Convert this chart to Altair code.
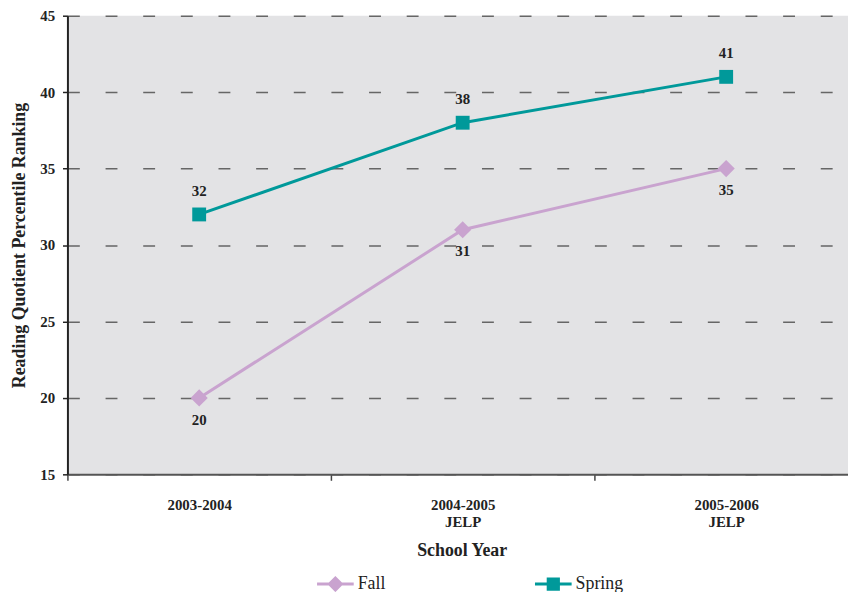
import altair as alt
import pandas as pd

years = ["2003-2004", "2004-2005 JELP", "2005-2006 JELP"]
fall = [20, 31, 35]
spring = [32, 38, 41]
series_names = ["Fall", "Spring"]
series_colors = ["#c9a3cf", "#00999a"]
y_ticks = [15, 20, 25, 30, 35, 40, 45]

rows = []
for i, yr in enumerate(years):
    rows.append({"year": yr, "series": "Fall", "value": fall[i], "pos": "below"})
    rows.append({"year": yr, "series": "Spring", "value": spring[i], "pos": "above"})
df = pd.DataFrame(rows)

FONT = "Liberation Serif"

x_enc = alt.X(
    "year:N",
    sort=years,
    scale=alt.Scale(type="band", paddingInner=0, paddingOuter=0, range=[0, 798]),
    axis=alt.Axis(
        title="School Year",
        titleFont=FONT, titleFontSize=18, titleFontWeight="bold", titleColor="#222",
        titleY=77, titleX=398, titleBaseline="middle",
        labelFont=FONT, labelFontSize=15, labelFontWeight="bold", labelColor="#222",
        labelExpr="split(datum.label, ' ')", labelLineHeight=18,
        labelAngle=0, labelPadding=17, labelBaseline="top",
        tickBand="extent", tickSize=6, tickColor="#444", tickWidth=1.5,
        domainColor="#555", domainWidth=2, grid=False,
    ),
)
y_enc = alt.Y(
    "value:Q",
    scale=alt.Scale(domain=[15, 45], nice=False, zero=False),
    axis=alt.Axis(
        title="Reading Quotient Percentile Ranking",
        titleFont=FONT, titleFontSize=18, titleFontWeight="bold", titleColor="#222",
        titleX=-48, titleBaseline="middle",
        values=y_ticks,
        labelFont=FONT, labelFontSize=15, labelFontWeight="bold", labelColor="#222",
        labelPadding=8, tickSize=5, tickColor="#222", tickWidth=1.5,
        domainColor="#222", domainWidth=2,
        grid=True, gridColor="#666", gridWidth=1.5, gridDash=[12, 26],
    ),
)
color_enc = alt.Color(
    "series:N",
    scale=alt.Scale(domain=series_names, range=series_colors),
    legend=None,
)

base = alt.Chart(df)

lines = base.mark_line(strokeWidth=3).encode(x=x_enc, y=y_enc, color=color_enc)

points = base.mark_point(filled=True, opacity=1).encode(
    x=x_enc, y=y_enc, color=color_enc,
    shape=alt.Shape("series:N", scale=alt.Scale(domain=series_names, range=["diamond", "square"]), legend=None),
    size=alt.Size("series:N", scale=alt.Scale(domain=series_names, range=[300, 196]), legend=None),
)

labels_above = base.transform_filter(alt.datum.pos == "above").mark_text(
    font=FONT, fontSize=15, fontWeight="bold", color="#222", dy=-24
).encode(x=x_enc, y=y_enc, text="value:Q")

labels_below = base.transform_filter(alt.datum.pos == "below").mark_text(
    font=FONT, fontSize=15, fontWeight="bold", color="#222", dy=22
).encode(x=x_enc, y=y_enc, text="value:Q")

# legend glyphs: line segment with marker, normalized to [-1, 1]
fall_path = "M-1,-0.08H1V0.08H-1Z M0,-0.44L0.44,0L0,0.44L-0.44,0Z"
spring_path = "M-1,-0.08H1V0.08H-1Z M-0.36,-0.36H0.36V0.36H-0.36Z"

legend_props = dict(
    title=None, orient="none", direction="horizontal",
    legendX=252, legendY=555,
    symbolSize=1369, symbolOpacity=1, symbolStrokeWidth=0,
    labelFont=FONT, labelFontSize=18, labelColor="#222", labelOffset=4,
    columnPadding=150,
)

legend_layer = base.transform_filter("false").mark_point(filled=True, opacity=1).encode(
    x=x_enc, y=y_enc,
    color=alt.Color(
        "series:N",
        scale=alt.Scale(domain=series_names, range=series_colors),
        legend=alt.Legend(**legend_props),
    ),
    shape=alt.Shape(
        "series:N",
        scale=alt.Scale(domain=series_names, range=[fall_path, spring_path]),
        legend=alt.Legend(**legend_props),
    ),
)

chart = (
    alt.layer(lines, points, labels_above, labels_below, legend_layer)
    .resolve_scale(color="independent", shape="independent", size="independent")
    .properties(
        width=788, height=463,
        autosize=alt.AutoSizeParams(type="none"),
        padding={"left": 60, "top": 5, "right": 0, "bottom": 116},
    )
    .configure(background="white")
    .configure_view(fill="#e3e3e5", stroke=None)
)

chart.save("out.html", embed_options={"renderer": "svg", "actions": False})
